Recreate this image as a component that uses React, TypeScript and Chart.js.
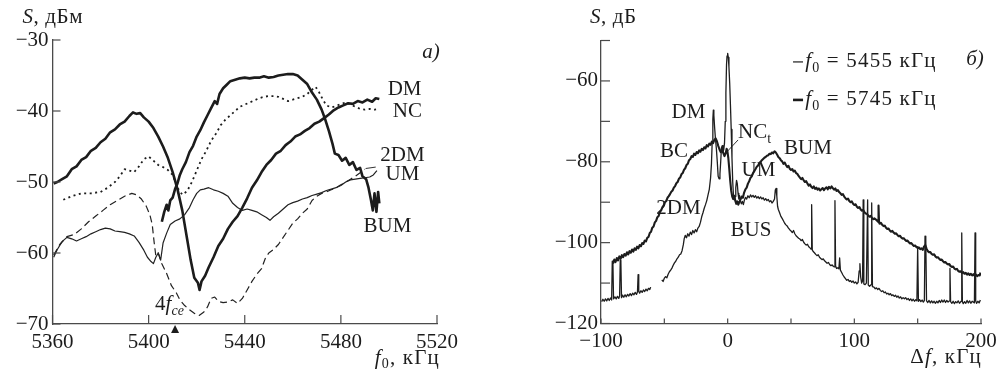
import { useEffect, useRef } from 'react';
import { Chart, registerables } from 'chart.js';
Chart.register(...registerables);

type Pt = [number, number | null];
type Part = { t: string; it?: boolean; sub?: boolean };
type Label = { parts: Part[]; x: number; y: number; align?: 'left' | 'center' | 'right' };

// ================= panel a) =================
const aFreq = { min: 5360, max: 5520, step: 40 };
const aLevel = { min: -70, max: -30, step: 10 };

const aDM: Pt[] = [
  [5360.5, -50.2], [5362, -50.0], [5364, -49.6], [5366, -49.2], [5368, -48.2], [5370, -47.8], [5372, -46.9],
  [5374, -46.5], [5376, -45.6], [5378, -45.2], [5380, -44.4], [5382, -43.9], [5384, -43.0], [5386, -42.6],
  [5388, -41.9], [5390, -41.5], [5392, -40.7], [5393.5, -40.2], [5395, -40.4], [5396.5, -40.3], [5398, -40.9],
  [5400, -41.5], [5402, -42.4], [5404, -43.6], [5406, -45.0], [5408, -46.6], [5410, -48.6], [5412, -51.0],
  [5414, -54.0], [5416, -58.0], [5417.5, -61.0], [5419, -63.5], [5420.5, -64.2], [5421.2, -65.2], [5422, -64.0],
  [5423.5, -63.2], [5425, -62.0], [5427, -60.6], [5429, -59.0], [5431, -58.0], [5433, -56.6], [5435, -55.6],
  [5437, -54.8], [5439, -53.6], [5441, -52.3], [5443, -50.8], [5445, -49.8], [5447, -48.6], [5449, -47.6],
  [5451, -46.9], [5453, -46.0], [5455, -45.6], [5457, -44.8], [5459, -44.3], [5461, -43.6], [5463, -43.3],
  [5465, -42.8], [5467, -42.4], [5469, -41.8], [5471, -41.5], [5473, -41.0], [5475, -40.5], [5477, -39.9],
  [5479, -39.5], [5481, -39.2], [5483, -38.9], [5485, -39.0], [5487, -38.6], [5489, -38.8], [5491, -38.4],
  [5493, -38.7], [5494.5, -38.2], [5496, -38.3],
];

const aBUM: Pt[] = [
  [5405.5, -55.6], [5406.5, -54.2], [5407.5, -53.2], [5408.2, -54.0], [5409, -52.6], [5410, -52.2], [5411, -51.0],
  [5412, -50.2], [5413, -49.0], [5414, -48.2], [5415.5, -47.2], [5417, -45.8], [5418.5, -44.9], [5420, -43.6],
  [5421.5, -42.7], [5423, -41.6], [5424.5, -40.6], [5426, -39.6], [5427.5, -38.6], [5428.5, -39.0], [5429.5, -37.6],
  [5431, -36.8], [5432.5, -36.3], [5434, -35.8], [5436, -35.6], [5438, -35.4], [5440, -35.3], [5442, -35.4],
  [5444, -35.3], [5446, -35.3], [5448, -35.1], [5450, -35.3], [5452, -35.2], [5454, -35.0], [5456, -34.9],
  [5458, -34.8], [5460, -34.8], [5462, -35.0], [5464, -35.6], [5466, -36.2], [5468, -37.4], [5470, -38.4],
  [5472, -39.8], [5473.5, -41.2], [5475, -42.8], [5476.5, -44.6], [5477.5, -46.0], [5479, -46.2], [5480.5, -47.0],
  [5482, -46.6], [5483.5, -47.6], [5485, -47.2], [5486.5, -48.3], [5488, -48.0], [5489, -49.2], [5490.5, -49.6],
  [5491.5, -50.8], [5492.5, -52.5], [5493.3, -54.0], [5494, -51.6], [5494.8, -54.2], [5495.5, -51.4], [5496, -53.0],
];

const aNC: Pt[] = [
  [5364.5, -52.5], [5368, -52.0], [5372, -51.6], [5376, -51.6], [5380, -51.4], [5383, -50.8], [5386, -50.0],
  [5388, -49.2], [5390, -48.2], [5392, -48.4], [5394, -48.6], [5396, -47.8], [5398, -46.8], [5400, -46.4],
  [5402, -47.0], [5404, -47.6], [5406, -47.9], [5408, -48.3], [5410, -49.0], [5412, -50.8], [5414, -51.8],
  [5416, -51.3], [5418, -50.0], [5420, -48.4], [5422, -46.8], [5424, -45.6], [5426, -44.2], [5428, -43.2],
  [5430, -42.0], [5432, -41.2], [5434, -40.6], [5436, -40.0], [5438, -39.4], [5440, -39.1], [5442, -38.8],
  [5444, -38.5], [5446, -38.2], [5448, -38.0], [5450, -37.9], [5452, -37.9], [5454, -38.0], [5456, -38.3],
  [5458, -38.6], [5460, -38.4], [5462, -38.2], [5464, -38.0], [5466, -37.6], [5468, -37.0], [5469.5, -36.6],
  [5471, -37.4], [5472.5, -38.4], [5474, -39.2], [5476, -39.5], [5478, -39.3], [5480, -39.0], [5482, -38.8],
  [5484, -39.1], [5486, -39.4], [5488, -39.7], [5490, -39.8], [5492, -39.7], [5494, -39.8], [5496, -39.7],
];

const a2DM: Pt[] = [
  [5360.5, -60.3], [5363, -58.8], [5366, -57.7], [5369, -57.4], [5372, -56.6], [5375, -55.6], [5378, -54.8],
  [5381, -54.0], [5384, -53.2], [5387, -52.6], [5390, -52.0], [5393, -51.6], [5395, -51.8], [5397, -52.4],
  [5399, -53.4], [5400.5, -54.6], [5401.5, -56.0], [5402.3, -58.5], [5403, -60.4], [5404, -60.0], [5405.5, -61.5],
  [5407.5, -62.9], [5409.5, -64.6], [5411.5, -65.6], [5413, -66.6], [5415, -67.4], [5417, -68.0], [5419, -68.5],
  [5421, -68.8], [5423, -68.3], [5424.5, -67.6], [5426, -66.4], [5427.5, -66.2], [5429, -66.8], [5431, -67.0],
  [5433, -66.9], [5435, -66.6], [5437, -67.1], [5439, -66.4], [5441, -65.2], [5443, -64.0], [5445, -63.0],
  [5447, -62.2], [5448.5, -60.8], [5450, -60.0], [5452, -59.5], [5454, -58.8], [5456, -57.8], [5458, -56.8],
  [5460, -55.8], [5462, -55.2], [5464, -54.4], [5466, -53.8], [5468, -52.6], [5470, -52.0], [5472, -51.6],
  [5474, -51.4], [5476, -51.1], [5478, -50.8], [5480, -50.4], [5482, -50.0], [5484, -49.6], [5486, -49.2],
  [5488, -48.7], [5490, -48.2],
];

const aUM: Pt[] = [
  [5360.5, -60.6], [5362, -59.5], [5364, -58.4], [5366, -57.8], [5368, -58.0], [5370, -58.3], [5372, -58.0],
  [5374, -57.7], [5376, -57.3], [5378, -57.0], [5380, -56.7], [5382, -56.5], [5384, -56.6], [5386, -56.9],
  [5388, -57.0], [5390, -57.1], [5392, -57.3], [5394, -57.6], [5396, -58.5], [5398, -59.6], [5399.5, -60.6],
  [5401, -61.2], [5402, -61.5], [5403, -60.6], [5404, -60.0], [5405, -61.0], [5406, -58.6], [5407.5, -57.2],
  [5409, -56.0], [5411, -55.5], [5413, -55.2], [5415, -54.6], [5417, -53.6], [5418.5, -52.5], [5420, -51.6],
  [5421.5, -51.1], [5423, -51.0], [5425, -50.8], [5427, -51.1], [5429, -51.3], [5431, -51.6], [5433, -52.0],
  [5435, -53.0], [5437, -53.6], [5439, -54.0], [5441, -53.8], [5443, -54.0], [5445, -54.2], [5447, -54.6],
  [5449, -55.0], [5450.5, -55.4], [5452, -54.9], [5454, -54.4], [5456, -53.8], [5458, -53.2], [5460, -52.9],
  [5462, -52.7], [5464, -52.4], [5466, -52.2], [5468, -51.9], [5470, -51.7], [5472, -51.5], [5474, -51.2],
  [5476, -51.0], [5478, -50.8], [5480, -50.5], [5482, -50.0], [5484, -49.7], [5486, -49.6], [5488, -49.5],
  [5490, -49.4], [5492, -49.3], [5493.5, -49.0], [5495, -48.4],
];

const aMarkerFreq = 5411;

const aLabels: Label[] = [
  { parts: [{ t: 'DM' }], x: 5506.5, y: -37.0 },
  { parts: [{ t: 'NC' }], x: 5507.7, y: -40.1 },
  { parts: [{ t: '2DM' }], x: 5505.6, y: -46.3 },
  { parts: [{ t: 'UM' }], x: 5505.6, y: -48.9 },
  { parts: [{ t: 'BUM' }], x: 5499.4, y: -56.3 },
  { parts: [{ t: 'a)', it: true }], x: 5517.5, y: -31.7 },
  { parts: [{ t: '4' }, { t: 'f', it: true }, { t: 'ce', it: true, sub: true }], x: 5402.7, y: -67.3, align: 'left' },
];
const aLeaders: [number, number, number, number][] = [[5490.3, -48.1, 5494.5, -47.9]];

// ================= panel б) =================
const bFreq = { min: -100, max: 200, step: 50, labelEvery: 100 };
const bLevel = { min: -120, max: -50, step: 10, labelEvery: 20 };

// f0 = 5455 kHz (thin)
const b5455: Pt[] = [
  [-99.5, -114.6], [-98.5, -114.0], [-97.5, -114.5], [-96.5, -113.9], [-95.5, -114.4], [-94.5, -113.8], [-93.5, -114.3],
  [-92.5, -113.7], [-91.6, -114.2], [-91.1, -104.6], [-90.6, -104.9], [-90.1, -113.9], [-89, -113.4], [-88, -113.9],
  [-87, -113.3], [-86, -113.8], [-85.3, -113.2], [-84.8, -104.4], [-84.3, -105.0], [-83.8, -113.6], [-83, -113.0],
  [-82, -113.5], [-81, -112.9], [-80, -113.4], [-79, -112.8], [-78, -113.2], [-77, -112.6], [-76, -113.1],
  [-75, -112.5], [-74, -112.9], [-73, -112.3], [-72, -112.8], [-71.2, -112.2], [-70.7, -107.9], [-70.2, -112.0],
  [-69.5, -112.5], [-68.5, -111.9], [-67.5, -112.3], [-66.5, -111.7], [-65.5, -112.1], [-64.5, -111.5], [-63.5, -111.9],
  [-62.5, -111.3], [-61.5, -111.6], [-60.8, -111.0], [-56, null],
  [-52, -109.2], [-51, -109.6], [-50, -108.8], [-49, -108.4], [-48, -108.7], [-47, -107.8], [-46, -107.2],
  [-45, -106.8], [-44, -106.3], [-43, -105.6], [-42, -105.0], [-41, -104.6], [-40, -104.0], [-39, -103.6],
  [-38, -103.0], [-37, -102.8], [-36, -102.0], [-35, -100.5], [-34.3, -99.0], [-33.5, -98.2], [-32.5, -98.8],
  [-31.5, -97.8], [-30.5, -98.4], [-29.5, -97.4], [-28.5, -98.0], [-27.5, -97.0], [-26.5, -97.6], [-25.5, -96.8],
  [-24.5, -97.3], [-23.5, -96.4], [-22.5, -96.0], [-21.5, -95.0], [-20.5, -93.6], [-19.5, -92.6], [-18.5, -91.5],
  [-17.5, -90.6], [-16.5, -89.6], [-15.5, -88.2], [-14.5, -86.8], [-13.5, -84.0], [-12.8, -80.5], [-12.2, -75.0],
  [-11.7, -69.5], [-11.3, -67.2], [-10.9, -68.5], [-10.3, -71.5], [-9.6, -74.5], [-8.9, -76.8], [-8.2, -80.0],
  [-7.5, -83.6], [-6.8, -84.2], [-6.1, -83.0], [-5.5, -80.0], [-4.9, -76.5], [-4.3, -76.0], [-3.7, -77.6],
  [-3.1, -77.0], [-2.5, -75.4], [-1.9, -70.0], [-1.4, -63.0], [-0.9, -56.0], [-0.5, -53.8], [0.0, -53.2],
  [0.5, -54.2], [1.0, -56.5], [1.6, -60.5], [2.2, -66.0], [2.8, -72.0], [3.4, -79.0], [4.0, -85.0],
  [4.6, -88.4], [5.2, -89.4], [5.8, -88.6], [6.4, -86.4], [7.0, -84.6], [7.6, -85.4], [8.2, -87.8],
  [8.8, -89.2], [9.4, -88.4], [10, -89.6], [10.8, -90.4], [11.6, -89.8], [12.4, -90.6], [13.2, -89.5],
  [14, -88.8], [15, -89.2], [16, -88.4], [17, -88.9], [18, -88.2], [19, -88.7], [20, -88.3], [21, -88.8],
  [22, -88.4], [23, -89.0], [24, -88.6], [25, -89.1], [26, -88.7], [27, -89.2], [28, -88.9], [29, -89.5],
  [30, -89.1], [31, -89.6], [32, -89.3], [33, -89.9], [34, -89.6], [35, -90.2], [36, -89.8], [37, -89.2],
  [37.6, -87.0], [38.2, -86.6], [38.8, -88.5], [39.4, -91.0], [40, -91.8], [41, -92.6], [42, -93.5],
  [43, -94.0], [44, -94.6], [45, -95.2], [46, -95.6], [47, -95.9], [48, -96.4], [49, -96.8], [50, -97.1],
  [51, -97.5], [52, -97.0], [53, -97.8], [54, -98.3], [55, -98.6], [56, -98.9], [57, -99.1], [58, -99.5],
  [59, -99.2], [60, -99.9], [61, -100.3], [62, -100.6], [63, -100.4], [64, -101.0], [65, -101.3], [65.8, -101.6],
  [66.3, -90.6], [66.8, -101.8], [67.5, -102.2], [68.5, -102.5], [69.5, -102.9], [70.5, -103.2], [71.5, -103.0],
  [72.5, -103.6], [73.5, -103.9], [74.5, -104.2], [75.5, -104.0], [76.5, -104.5], [77.5, -104.8], [78.5, -105.1],
  [79.5, -104.9], [80.5, -105.4], [81.5, -105.7], [82.5, -105.5], [83.5, -105.9], [84.2, -106.0], [84.7, -89.6],
  [85.2, -105.8], [86.0, -106.4], [87.0, -106.2], [87.8, -106.5], [88.4, -103.8], [89.0, -106.8], [90, -107.4],
  [91, -108.0], [92, -108.5], [93, -108.9], [94, -109.3], [95, -109.1], [96, -109.6], [97, -109.4], [98, -109.8],
  [99, -109.5], [100, -110.0], [101, -109.7], [102, -110.2], [103, -109.8], [103.8, -107.0], [104.4, -105.2],
  [105.0, -108.5], [105.8, -110.0], [106.5, -109.5], [107.0, -89.4], [107.5, -110.2], [108.5, -110.4],
  [109.5, -110.0], [110.5, -89.4], [111.0, -110.5], [112.0, -110.8], [113.2, -110.4], [113.7, -90.2],
  [114.3, -110.9], [115.5, -111.0], [116.5, -111.4], [117.5, -111.2], [118.5, -111.6], [119.5, -111.3],
  [120.5, -111.8], [121.5, -112.1], [122.5, -111.9], [123.5, -112.4], [124.5, -112.2], [125.5, -112.7],
  [126.5, -112.5], [127.5, -112.9], [128.5, -112.6], [129.5, -113.1], [130.5, -112.9], [131.5, -113.3],
  [132.5, -113.0], [133.5, -113.5], [134.5, -113.2], [135.5, -113.7], [136.5, -113.4], [137.5, -113.9],
  [138.5, -113.6], [139.5, -113.9], [140.5, -113.6], [141.5, -114.1], [142.5, -113.8], [143.5, -114.3],
  [144.5, -113.9], [145.5, -114.4], [146.5, -114.0], [147.5, -114.5], [148.5, -114.1], [149.4, -114.4],
  [150.0, -101.0], [150.6, -114.5], [151.5, -114.1], [152.5, -114.6], [153.5, -114.2], [154.5, -114.7],
  [155.3, -114.3], [155.8, -98.4], [156.4, -99.0], [157.0, -114.4], [158, -114.8], [159, -114.3], [160, -114.9],
  [161, -114.4], [162, -114.9], [163, -114.5], [164, -115.0], [165, -114.5], [166, -114.9], [167, -114.3],
  [168, -114.8], [169, -114.2], [170, -114.7], [171, -114.2], [172, -114.8], [173, -114.3], [174, -114.7],
  [175.0, -114.4], [175.5, -106.4], [176.0, -114.6], [177, -115.0], [178, -114.5], [179, -115.1], [180, -114.6],
  [181, -114.9], [182, -114.4], [183, -115.0], [184.3, -114.5], [184.8, -97.6], [185.3, -114.6], [186, -115.1],
  [187, -114.6], [188, -115.0], [189, -114.3], [190, -114.9], [191, -114.4], [192, -115.0], [193, -114.5],
  [194.8, -114.9], [195.3, -97.6], [195.8, -114.4], [196.5, -115.0], [197.5, -114.5], [198.5, -114.9], [199.5, -114.2],
];

// f0 = 5745 kHz (thick)
const b5745: Pt[] = [
  [-90.5, -105.2], [-89.5, -104.2], [-88.5, -104.8], [-87.5, -103.8], [-86.5, -104.4], [-85.5, -103.4], [-84.5, -104.0],
  [-83.5, -103.1], [-82.5, -103.6], [-81.5, -102.8], [-80.5, -103.2], [-79.5, -102.4], [-78.5, -102.9], [-77.5, -102.1],
  [-76.5, -102.5], [-75.5, -101.7], [-74.5, -102.2], [-73.5, -101.4], [-72.5, -101.8], [-71.5, -101.0], [-70.5, -101.4],
  [-69.5, -100.6], [-68.5, -100.9], [-67.5, -100.1], [-66.5, -100.3], [-65.5, -99.5], [-64.5, -99.7], [-63.5, -98.8],
  [-62.5, -98.6], [-61.5, -97.6], [-60.5, -97.3], [-59.5, -96.3], [-58.5, -96.0], [-57.5, -95.0], [-56.5, -94.6],
  [-55.5, -93.7], [-54.5, -93.4], [-53.5, -92.4], [-52.5, -92.0], [-51.5, -91.2], [-50.5, -90.8], [-49.5, -90.0],
  [-48.5, -89.7], [-47.5, -88.9], [-46.5, -88.5], [-45.5, -88.0], [-44.5, -87.4], [-43.5, -87.1], [-42.5, -86.4],
  [-41.5, -86.0], [-40.5, -85.3], [-39.5, -85.0], [-38.5, -84.2], [-37.5, -83.9], [-36.5, -83.1], [-35.5, -82.8],
  [-34.5, -82.0], [-33.5, -81.6], [-32.5, -80.8], [-31.5, -80.5], [-30.5, -79.6], [-29.5, -79.3], [-28.5, -78.6],
  [-27.5, -78.8], [-26.5, -78.0], [-25.5, -78.3], [-24.5, -77.6], [-23.5, -77.9], [-22.5, -77.2], [-21.5, -77.5],
  [-20.5, -76.8], [-19.5, -77.1], [-18.5, -76.4], [-17.5, -76.7], [-16.5, -75.9], [-15.5, -76.2], [-14.5, -75.5],
  [-13.5, -75.8], [-12.5, -75.0], [-11.5, -75.4], [-10.5, -74.6], [-9.5, -74.2], [-8.5, -74.9], [-7.5, -76.0],
  [-6.5, -76.9], [-5.5, -77.6], [-4.5, -77.0], [-3.5, -77.8], [-2.5, -78.6], [-1.5, -77.8], [-0.8, -76.8],
  [-0.2, -77.4], [0.5, -79.0], [1.2, -81.5], [2.0, -84.6], [2.8, -87.2], [3.6, -88.6], [4.4, -89.2], [5.2, -88.4],
  [6.0, -89.6], [6.8, -90.4], [7.6, -89.8], [8.4, -90.6], [9.2, -90.0], [10, -89.4], [11, -88.6], [12, -88.9],
  [13, -87.6], [14, -86.8], [15, -86.4], [16, -85.4], [17, -84.8], [18, -84.0], [19, -83.6], [20, -82.8],
  [21, -82.3], [22, -81.8], [23, -81.2], [24, -80.9], [25, -80.3], [26, -80.0], [27, -79.6], [28, -79.3],
  [29, -79.0], [30, -78.8], [31, -78.5], [32, -78.4], [33, -78.0], [34, -78.1], [35, -77.7], [36, -77.9],
  [37, -77.4], [38, -77.7], [39, -78.2], [40, -78.8], [41, -79.1], [42, -79.6], [43, -79.9], [44, -80.5],
  [45, -80.2], [46, -80.8], [47, -81.3], [48, -81.0], [49, -81.7], [50, -82.0], [51, -81.8], [52, -82.4],
  [53, -82.2], [54, -82.8], [55, -83.0], [56, -83.5], [57, -83.9], [58, -84.3], [59, -84.0], [60, -84.6],
  [61, -85.0], [62, -84.8], [63, -85.4], [64, -85.9], [65, -85.6], [66, -86.2], [67, -86.5], [68, -86.1],
  [69, -86.7], [70, -86.4], [71, -86.9], [72, -86.6], [73, -87.1], [74, -86.8], [75, -86.5], [76, -87.0],
  [77, -86.6], [78, -86.3], [79, -86.8], [80, -86.2], [81, -86.6], [82, -86.1], [83, -86.5], [84, -86.9],
  [85, -86.6], [86, -87.2], [87, -87.0], [88, -87.5], [89, -87.8], [90, -88.2], [91, -88.0], [92, -88.6],
  [93, -89.0], [94, -89.3], [95, -89.1], [96, -89.7], [97, -90.0], [98, -89.8], [99, -90.4], [100, -90.7],
  [101, -90.5], [102, -91.1], [103, -91.4], [104, -91.2], [105, -91.8], [106, -92.1], [107, -91.9], [108, -92.5],
  [109, -92.8], [110, -92.9], [111, -93.3], [112, -93.6], [113, -93.4], [114, -93.9], [115, -94.2], [116, -94.0],
  [117, -94.3], [118, -94.6], [118.7, -94.8], [119.1, -90.8], [119.5, -95.0], [120, -95.3], [121, -95.1],
  [122, -95.6], [123, -95.9], [124, -95.8], [125, -96.3], [126, -96.6], [127, -96.5], [128, -97.0], [129, -97.3],
  [130, -97.1], [131, -97.5], [132, -97.8], [133, -97.7], [134, -98.1], [135, -98.4], [136, -98.3], [137, -98.7],
  [138, -99.0], [139, -98.9], [140, -99.3], [141, -99.6], [142, -99.5], [143, -99.9], [144, -100.2], [145, -100.1],
  [146, -100.5], [147, -100.8], [148, -100.7], [149, -101.1], [150, -101.3], [151, -101.2], [152, -101.6],
  [153, -101.4], [154, -101.8], [155, -101.0], [156, -100.6], [157, -101.5], [158, -102.1], [159, -102.4],
  [160, -102.3], [161, -102.8], [162, -103.0], [163, -102.9], [164, -103.4], [165, -103.7], [166, -103.6],
  [167, -104.0], [168, -104.3], [169, -104.2], [170, -104.6], [171, -104.9], [172, -104.8], [173, -105.2],
  [174, -105.4], [175, -105.3], [176, -105.8], [177, -106.0], [178, -105.9], [179, -106.4], [180, -106.6],
  [181, -106.5], [182, -107.0], [183, -107.2], [184, -107.1], [185, -107.5], [186, -107.3], [187, -107.7],
  [188, -107.5], [189, -107.9], [190, -107.6], [191, -108.0], [192, -107.7], [193, -108.1], [194, -107.8],
  [195, -108.2], [196, -107.9], [197, -108.3], [198, -108.0], [199, -108.1], [199.6, -107.4],
];

const bLabels: Label[] = [
  { parts: [{ t: 'DM' }], x: -30.9, y: -67.9 },
  { parts: [{ t: 'NC' }, { t: 't', sub: true }], x: 8.2, y: -72.8, align: 'left' },
  { parts: [{ t: 'BC' }], x: -42.4, y: -77.5 },
  { parts: [{ t: 'BUM' }], x: 63.4, y: -76.8 },
  { parts: [{ t: 'UM' }], x: 24.3, y: -82.2 },
  { parts: [{ t: '2DM' }], x: -38.8, y: -91.6 },
  { parts: [{ t: 'BUS' }], x: 18.4, y: -97.0 },
  { parts: [{ t: 'б)', it: true }], x: 195.3, y: -54.8 },
];
const bLeaders: [number, number, number, number][] = [[8.2, -74.6, -0.5, -77.5]];
const bLegendText = ['5455', '5745'];
const bLegendPos = { x0: 51.6, x1: 59.5, tx: 61.2, y: [-55.3, -64.7] };

// ================= drawing helpers =================
const FONT = '"Liberation Serif", "Times New Roman", serif';
const FS = 21;
const INK = '#1c1c1c';
const AXIS = '#4a4a4a';

const fontFor = (p: Part, size: number) =>
  `${p.it ? 'italic ' : ''}${p.sub ? Math.round(size * 0.66) : size}px ${FONT}`;

function drawRich(ctx: CanvasRenderingContext2D, parts: Part[], x: number, y: number, size: number,
  align: 'left' | 'center' | 'right' = 'center', spacing = 0) {
  (ctx as any).letterSpacing = spacing + 'px';
  const ws = parts.map((p) => { ctx.font = fontFor(p, size); return ctx.measureText(p.t).width; });
  const total = ws.reduce((a, b) => a + b, 0);
  let cx = align === 'left' ? x : align === 'center' ? x - total / 2 : x - total;
  ctx.textAlign = 'left';
  ctx.textBaseline = 'middle';
  parts.forEach((p, i) => {
    ctx.font = fontFor(p, size);
    ctx.fillText(p.t, cx, y + (p.sub ? size * 0.3 : 0));
    cx += ws[i];
  });
  (ctx as any).letterSpacing = '0px';
}

const minus = (v: number) => (v < 0 ? '\u2212' + Math.abs(v) : String(v));

function seg(ctx: CanvasRenderingContext2D, x0: number, y0: number, x1: number, y1: number) {
  ctx.beginPath(); ctx.moveTo(x0, y0); ctx.lineTo(x1, y1); ctx.stroke();
}

const toXY = (pts: Pt[]) => pts.map(([x, y]) => ({ x, y }));

const line = (pts: Pt[], width: number, dash: number[] = [], color = INK) => ({
  data: toXY(pts), borderColor: color, borderWidth: width, borderDash: dash,
  pointRadius: 0, tension: 0, spanGaps: false, borderJoinStyle: 'round', fill: false,
});

function decor(o: {
  labels: Label[]; leaders: [number, number, number, number][]; xTick: number; yTick: number;
  title: (ctx: CanvasRenderingContext2D, a: any) => void; extra?: (chart: any) => void;
}) {
  return {
    id: 'decor',
    afterDraw(chart: any) {
      const { ctx, chartArea: a } = chart;
      const xs = chart.scales.x, ys = chart.scales.y;
      ctx.save();
      ctx.strokeStyle = AXIS; ctx.lineWidth = 1.2;
      xs.ticks.forEach((t: any) => { const px = xs.getPixelForValue(t.value); seg(ctx, px, a.bottom, px, a.bottom - o.xTick); });
      ys.ticks.forEach((t: any) => { const py = ys.getPixelForValue(t.value); seg(ctx, a.left, py, a.left + o.yTick, py); });
      ctx.strokeStyle = INK; ctx.lineWidth = 0.9;
      o.leaders.forEach(([x0, y0, x1, y1]) => seg(ctx, xs.getPixelForValue(x0), ys.getPixelForValue(y0), xs.getPixelForValue(x1), ys.getPixelForValue(y1)));
      ctx.fillStyle = INK;
      o.labels.forEach((l) => drawRich(ctx, l.parts, xs.getPixelForValue(l.x), ys.getPixelForValue(l.y), FS, l.align || 'center'));
      o.title(ctx, a);
      if (o.extra) o.extra(chart);
      ctx.restore();
    },
  };
}

function axisCfg(r: { min: number; max: number; step: number; labelEvery?: number }, fit: (s: any) => void, pad: number) {
  return {
    type: 'linear', min: r.min, max: r.max,
    ticks: {
      stepSize: r.step, autoSkip: false, padding: pad, color: INK, font: { family: FONT, size: FS },
      callback: (v: number) => (r.labelEvery && v % r.labelEvery !== 0 ? '' : minus(v)),
    },
    grid: { display: true, drawOnChartArea: false, drawTicks: false },
    border: { display: true, color: AXIS, width: 1.3 },
    afterFit: fit,
  };
}

function baseOptions(padding: any, x: any, y: any, plugin: any) {
  return {
    type: 'line',
    data: { datasets: [] as any[] },
    options: {
      animation: false, responsive: false, events: [],
      layout: { padding },
      plugins: { legend: { display: false }, tooltip: { enabled: false } },
      scales: { x, y },
    },
    plugins: [plugin],
  };
}

function PanelA() {
  const ref = useRef<HTMLCanvasElement>(null);
  useEffect(() => {
    const cfg: any = baseOptions(
      { top: 40, right: 33, left: 0, bottom: 0 },
      axisCfg(aFreq, (s: any) => { s.height = 52; }, 6),
      axisCfg(aLevel, (s: any) => { s.width = 52.5; }, 4),
      decor({
        labels: aLabels, leaders: aLeaders, xTick: 9, yTick: 8,
        title: (ctx, a) => {
          drawRich(ctx, [{ t: 'S', it: true }, { t: ', дБм' }], a.left - 30, a.top - 23, FS, 'left', 0.6);
          drawRich(ctx, [{ t: 'f', it: true }, { t: '0', sub: true }, { t: ', кГц' }], a.right + 3, a.bottom + 34, FS, 'right', 1.2);
        },
        extra: (chart) => {
          const { ctx, chartArea: a } = chart;
          const px = chart.scales.x.getPixelForValue(aMarkerFreq);
          ctx.fillStyle = INK;
          ctx.beginPath(); ctx.moveTo(px, a.bottom + 1); ctx.lineTo(px - 4, a.bottom + 9); ctx.lineTo(px + 4, a.bottom + 9); ctx.closePath(); ctx.fill();
        },
      }),
    );
    cfg.data.datasets = [
      line(aUM, 1.2, [], '#222'),
      line(a2DM, 1.2, [7, 4], '#222'),
      line(aNC, 1.8, [2, 3.5]),
      line(aDM, 2.6),
      line(aBUM, 2.6),
    ];
    const c = new Chart(ref.current as HTMLCanvasElement, cfg);
    return () => c.destroy();
  }, []);
  return <canvas ref={ref} width={470} height={376} style={{ position: 'absolute', left: 0, top: 0 }} />;
}

function PanelB() {
  const ref = useRef<HTMLCanvasElement>(null);
  useEffect(() => {
    const cfg: any = baseOptions(
      { top: 40.5, right: 49, left: 0, bottom: 0 },
      axisCfg(bFreq, (s: any) => { s.height = 52.5; }, 5),
      axisCfg(bLevel, (s: any) => { s.width = 131; }, 3),
      decor({
        labels: bLabels, leaders: bLeaders, xTick: 5, yTick: 9,
        title: (ctx, a) => {
          drawRich(ctx, [{ t: 'S', it: true }, { t: ', дБ' }], a.left - 11, a.top - 23.5, FS, 'left', 0.6);
          drawRich(ctx, [{ t: 'Δ' }, { t: 'f', it: true }, { t: ', кГц' }], a.right + 1, a.bottom + 33.5, FS, 'right', 1.2);
        },
        extra: (chart) => {
          const { ctx } = chart;
          const xs = chart.scales.x, ys = chart.scales.y;
          bLegendText.forEach((val, i) => {
            const py = ys.getPixelForValue(bLegendPos.y[i]);
            ctx.strokeStyle = INK; ctx.lineWidth = i === 0 ? 1.2 : 2.6;
            seg(ctx, xs.getPixelForValue(bLegendPos.x0), py, xs.getPixelForValue(bLegendPos.x1), py);
            drawRich(ctx, [{ t: 'f', it: true }, { t: '0', sub: true }, { t: ' = ' + val + ' кГц' }], xs.getPixelForValue(bLegendPos.tx), py, FS, 'left', 1.2);
          });
        },
      }),
    );
    cfg.data.datasets = [
      line(b5455, 1.3, [], '#1e1e1e'),
      line(b5745, 2.1),
    ];
    const c = new Chart(ref.current as HTMLCanvasElement, cfg);
    return () => c.destroy();
  }, []);
  return <canvas ref={ref} width={560} height={376} style={{ position: 'absolute', left: 470, top: 0 }} />;
}

export default function App() {
  return (
    <div style={{ position: 'fixed', left: 0, top: 0, width: 997, height: 376, background: '#fff', overflow: 'hidden' }}>
      <PanelA />
      <PanelB />
    </div>
  );
}
